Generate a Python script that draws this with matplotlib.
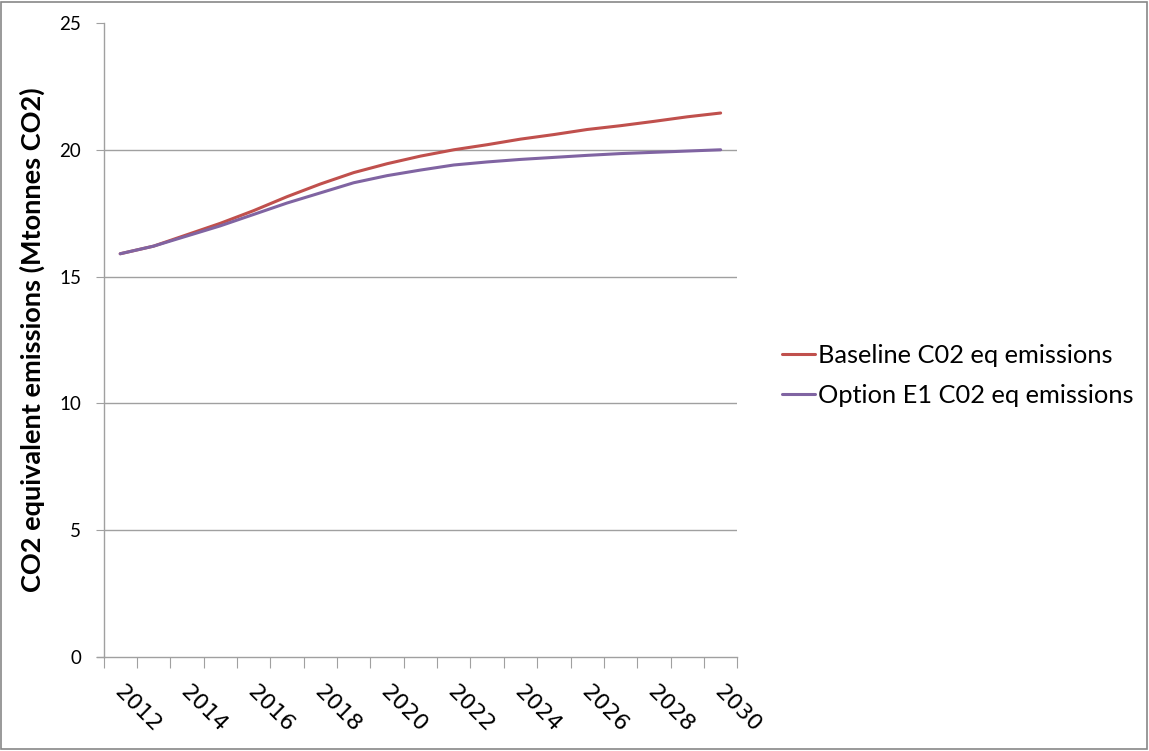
import numpy as np
import matplotlib
matplotlib.use('Agg')
import matplotlib.pyplot as plt
from matplotlib.patches import Rectangle
from matplotlib.transforms import ScaledTranslation

# data (Mtonnes CO2 eq)
years = [2012, 2013, 2014, 2015, 2016, 2017, 2018, 2019, 2020, 2021,
         2022, 2023, 2024, 2025, 2026, 2027, 2028, 2029, 2030]
baseline = [15.9, 16.2, 16.65, 17.1, 17.6, 18.15, 18.65, 19.1, 19.45, 19.75,
            20.0, 20.2, 20.42, 20.6, 20.8, 20.95, 21.12, 21.3, 21.45]
option_e1 = [15.9, 16.2, 16.6, 17.0, 17.45, 17.9, 18.3, 18.7, 18.98, 19.2,
             19.4, 19.52, 19.62, 19.7, 19.78, 19.85, 19.9, 19.95, 20.0]
series_names = ['Baseline C02 eq emissions', 'Option E1 C02 eq emissions']
yticks = [0, 5, 10, 15, 20, 25]

red = '#C0504D'
purple = '#8064A2'
grey = '#A0A0A0'

fig = plt.figure(figsize=(11.49, 7.51), dpi=100)
ax = fig.add_axes([0.0901, 0.1252, 0.5516, 0.8442])

x = np.arange(len(years))
ax.plot(x, baseline, color=red, lw=2.2, label=series_names[0], solid_capstyle='round')
ax.plot(x, option_e1, color=purple, lw=2.2, label=series_names[1], solid_capstyle='round')

ax.set_xlim(-0.5, len(years) - 0.5)
ax.set_ylim(0, 25)

# gridlines
for v in yticks[1:-1]:
    ax.axhline(v, color=grey, lw=1, zorder=0)

for s in ['top', 'right']:
    ax.spines[s].set_visible(False)
for s in ['left', 'bottom']:
    ax.spines[s].set_color(grey)
    ax.spines[s].set_linewidth(1)
# x axis line runs a little past the y axis, like excel
ax.plot([-0.7, -0.5], [0, 0], color=grey, lw=1, clip_on=False)

ax.set_yticks(yticks)
ax.set_yticklabels([str(v) for v in yticks], fontsize=13.5, family='Lato')
ax.tick_params(axis='y', length=6, color=grey, pad=10)

# category boundaries carry the tick marks, labels sit on every 2nd category
ax.set_xticks(np.arange(-0.5, len(years), 1.0))
ax.set_xticklabels([])
ax.tick_params(axis='x', which='major', length=8, color=grey)
ax.set_xticks(x[::2], minor=True)
ax.set_xticklabels([str(y) for y in years[::2]], minor=True, fontsize=16,
                   family='DejaVu Sans', rotation=-45, ha='left', va='top',
                   rotation_mode='anchor')
ax.tick_params(axis='x', which='minor', length=0, pad=18)
shift = ScaledTranslation(4 / 100, 0, fig.dpi_scale_trans)
for lbl in ax.get_xticklabels(minor=True):
    lbl.set_transform(lbl.get_transform() + shift)

ax.set_ylabel('CO2 equivalent emissions (Mtonnes CO2)', fontsize=19.5,
              fontweight='bold', family='Lato', labelpad=10)

leg = fig.legend(loc='center left', bbox_to_anchor=(0.661, 0.5), frameon=False,
                 prop={'family': 'Lato', 'size': 18.3}, handlelength=1.3,
                 handletextpad=0.1, labelspacing=0.65)

# chart area border
fig.patches.append(Rectangle((0.001, 0.002), 0.997, 0.996, transform=fig.transFigure,
                             fill=False, edgecolor='#888888', lw=1.2))

fig.savefig('out.png', dpi=100)
